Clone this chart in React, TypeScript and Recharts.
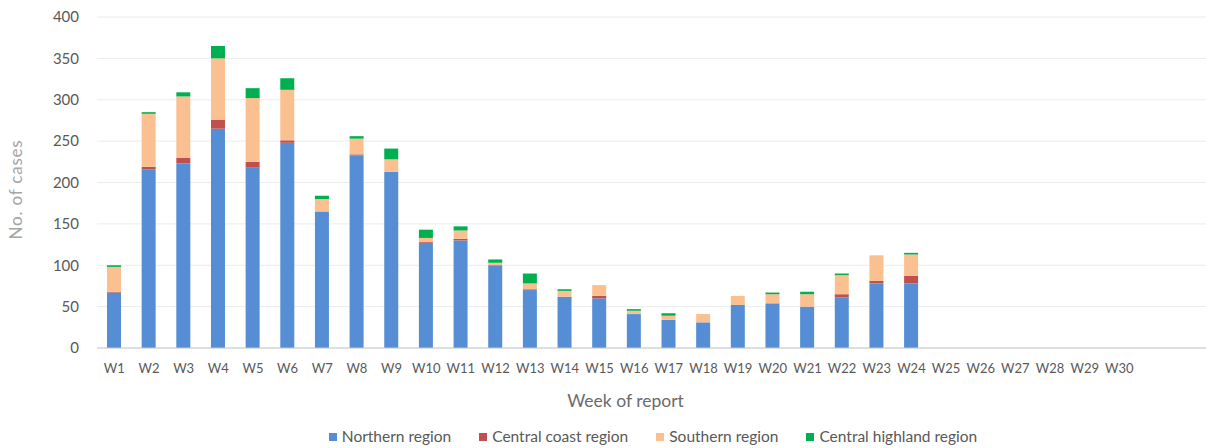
import React from "react";
import { BarChart, Bar, XAxis, YAxis, CartesianGrid, Legend } from "recharts";

const weekLabels = [
  "W1","W2","W3","W4","W5","W6","W7","W8","W9","W10",
  "W11","W12","W13","W14","W15","W16","W17","W18","W19","W20",
  "W21","W22","W23","W24","W25","W26","W27","W28","W29","W30",
];
// two trailing unlabeled category slots, as in the reference axis
const categories = [...weekLabels, "", " "];

const northern = [67,216,223,265,218,248,165,233,213,127,130,99,70,62,60,41,34,31,52,54,50,61,78,78];
const centralCoast = [1,3,7,11,7,3,0,1,0,1,2,1,1,0,3,0,0,0,0,0,0,4,3,9];
const southern = [30,64,74,74,77,61,15,19,15,5,10,3,7,7,13,4,5,10,11,11,15,23,31,26];
const centralHighland = [2,2,5,15,12,14,4,3,13,10,5,4,12,2,0,2,3,0,0,2,3,2,0,2];

const yTicks = [0, 50, 100, 150, 200, 250, 300, 350, 400];

const seriesKeys = ["n", "cc", "s", "ch"];
const seriesNames = ["Northern region", "Central coast region", "Southern region", "Central highland region"];
const seriesColors = ["#558ED5", "#C0504D", "#FAC090", "#00B050"];

const data = categories.map((c, i) => ({
  week: c,
  n: northern[i],
  cc: centralCoast[i],
  s: southern[i],
  ch: centralHighland[i],
}));

const FONT = "Lato, 'Open Sans', sans-serif";

function LegendContent() {
  return (
    <div style={{ display: "flex", justifyContent: "center", gap: 28, fontSize: 15.5, lineHeight: "17px", fontFamily: FONT, color: "#595959" }}>
      {seriesNames.map((name, i) => (
        <div key={name} style={{ display: "flex", alignItems: "center" }}>
          <span style={{ display: "inline-block", width: 8, height: 8, background: seriesColors[i], marginRight: 5 }} />
          <span>{name}</span>
        </div>
      ))}
    </div>
  );
}

export default function App() {
  return (
    <div style={{ position: "absolute", left: 0, top: 0, width: 1206, height: 448, background: "#fff", fontFamily: FONT }}>
      <BarChart
        width={1206}
        height={448}
        data={data}
        margin={{ top: 17, right: 0, left: 10, bottom: 0 }}
        barSize={14}
      >
        <CartesianGrid vertical={false} stroke="#ececec" strokeWidth={1} />
        <XAxis
          dataKey="week"
          interval={0}
          tickLine={false}
          axisLine={{ stroke: "#c8c8c8" }}
          tick={{ fill: "#595959", fontSize: 13, fontFamily: FONT }}
          tickMargin={10}
          height={83}
          label={{ value: "Week of report", position: "insideBottom", offset: 24, dx: -26, fill: "#6b6b6b", fontSize: 17.5, fontFamily: FONT }}
        />
        <YAxis
          domain={[0, 400]}
          ticks={yTicks}
          width={87}
          axisLine={false}
          tickLine={false}
          tickMargin={12}
          tick={{ fill: "#595959", fontSize: 15, fontFamily: FONT }}
          label={{ value: "No. of cases", angle: -90, position: "insideLeft", offset: 6, dy: 57, fill: "#a6a6a6", fontSize: 17, letterSpacing: 0.8, fontFamily: FONT }}
        />
        <Legend
          verticalAlign="bottom"
          align="center"
          content={<LegendContent />}
          wrapperStyle={{ bottom: 3, left: 0, width: 1306 }}
        />
        {seriesKeys.map((k, i) => (
          <Bar key={k} dataKey={k} name={seriesNames[i]} stackId="a" fill={seriesColors[i]} isAnimationActive={false} />
        ))}
      </BarChart>
    </div>
  );
}
